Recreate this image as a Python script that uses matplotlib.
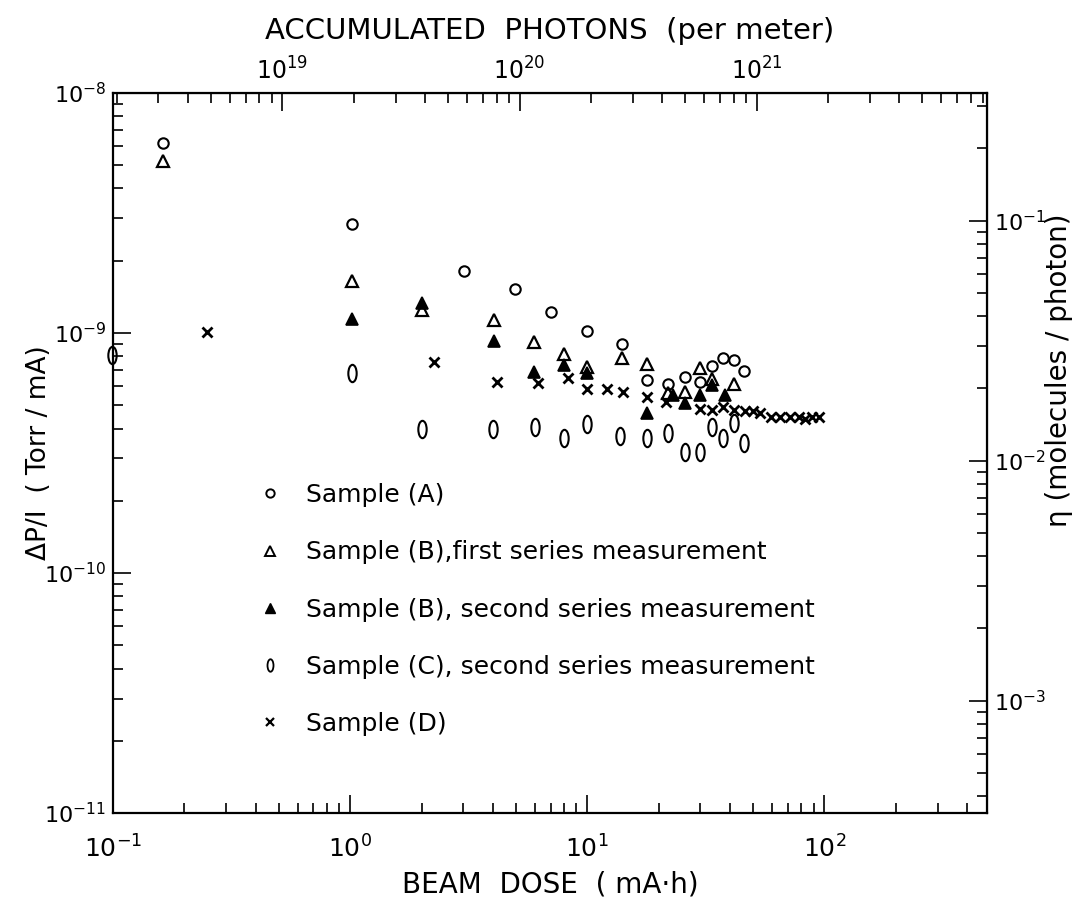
import matplotlib
matplotlib.use("Agg")
import matplotlib.pyplot as plt
from matplotlib.path import Path
from matplotlib.transforms import Affine2D
from matplotlib.lines import Line2D

# -------------------------------
# data
# beam dose in mA.h, dP/I in Torr/mA
# -------------------------------
dose_a = [0.163, 1.02, 3.03, 4.98, 7.03, 10.0, 14.0, 17.8, 21.8, 25.9, 29.9, 33.7, 37.2, 41.6, 45.8]
dpi_a = [6.2e-9, 2.85e-9, 1.82e-9, 1.52e-9, 1.22e-9, 1.02e-9, 8.97e-10, 6.37e-10, 6.13e-10,
         6.53e-10, 6.27e-10, 7.28e-10, 7.86e-10, 7.72e-10, 6.94e-10]

dose_b1 = [0.163, 1.02, 2.01, 4.03, 5.98, 8.0, 10.0, 14.0, 17.8, 21.8, 25.9, 29.9, 33.7, 41.6]
dpi_b1 = [5.2e-9, 1.64e-9, 1.25e-9, 1.13e-9, 9.14e-10, 8.2e-10, 7.2e-10, 7.85e-10, 7.43e-10,
          5.61e-10, 5.66e-10, 7.13e-10, 6.41e-10, 6.13e-10]

dose_b2 = [1.02, 2.01, 4.03, 5.98, 8.0, 10.0, 17.8, 22.9, 25.9, 29.9, 33.7, 38.1]
dpi_b2 = [1.14e-9, 1.33e-9, 9.26e-10, 6.9e-10, 7.36e-10, 6.8e-10, 4.63e-10, 5.52e-10,
          5.13e-10, 5.52e-10, 6.07e-10, 5.52e-10]

dose_c = [0.099, 1.02, 2.0, 4.0, 6.0, 8.0, 10.0, 13.8, 17.8, 21.8, 25.9, 29.9, 33.7, 37.3, 41.6, 45.8]
dpi_c = [8.1e-10, 6.8e-10, 4.0e-10, 4.0e-10, 4.05e-10, 3.64e-10, 4.18e-10, 3.73e-10, 3.64e-10,
         3.82e-10, 3.2e-10, 3.2e-10, 4.07e-10, 3.64e-10, 4.23e-10, 3.49e-10]

dose_d = [0.248, 2.26, 4.15, 6.2, 8.26, 10.0, 12.1, 14.1, 17.8, 21.4, 29.9, 33.7, 37.2, 41.6,
          46.1, 50.0, 53.3, 59.3, 65.3, 71.9, 78.0, 83.2, 88.7, 95.3]
dpi_d = [1.01e-9, 7.6e-10, 6.24e-10, 6.2e-10, 6.5e-10, 5.85e-10, 5.85e-10, 5.69e-10, 5.43e-10,
         5.18e-10, 4.81e-10, 4.78e-10, 4.93e-10, 4.78e-10, 4.74e-10, 4.72e-10, 4.63e-10,
         4.45e-10, 4.45e-10, 4.45e-10, 4.45e-10, 4.38e-10, 4.45e-10, 4.45e-10]

labels = [
    "Sample (A)",
    "Sample (B),first series measurement",
    "Sample (B), second series measurement",
    "Sample (C), second series measurement",
    "Sample (D)",
]

# decade ticks of the four scales
dose_ticks = [1e-1, 1e0, 1e1, 1e2]
dpi_ticks = [1e-11, 1e-10, 1e-9, 1e-8]
photon_ticks = [1e19, 1e20, 1e21]
eta_ticks = [1e-3, 1e-2, 1e-1]

# conversion factors for the twin scales
PHOTONS_PER_DOSE = 1.93e19   # photons per meter per mA.h
ETA_PER_DPI = 3.4e7          # molecules/photon per Torr/mA

# -------------------------------
# figure
# -------------------------------
plt.rcParams["font.family"] = "DejaVu Sans"
plt.rcParams["mathtext.default"] = "regular"
plt.rcParams["axes.unicode_minus"] = False

fig = plt.figure(figsize=(10.72, 9.06), dpi=100)
ax = fig.add_axes([0.1054, 0.1026, 0.8153, 0.7948])

ellipse = Path.unit_circle().transformed(Affine2D().scale(0.48, 1.0))

ms_kw = dict(linestyle="none", color="black", clip_on=False)
ax.plot(dose_a, dpi_a, marker="o", ms=7.5, mfc="none", mew=1.5, **ms_kw)
ax.plot(dose_b1, dpi_b1, marker="^", ms=8.5, mfc="none", mew=1.6, **ms_kw)
ax.plot(dose_b2, dpi_b2, marker="^", ms=8.5, mfc="black", mew=1.2, **ms_kw)
ax.plot(dose_c, dpi_c, marker=ellipse, ms=12.5, mfc="none", mew=1.5, **ms_kw)
ax.plot(dose_d, dpi_d, marker="x", ms=7, mew=2.0, **ms_kw)

ax.set_xscale("log")
ax.set_yscale("log")
ax.set_xticks(dose_ticks)
ax.set_yticks(dpi_ticks)
ax.set_xlim(0.1, 485)
ax.set_ylim(1e-11, 1e-8)

for s in ax.spines.values():
    s.set_linewidth(1.6)

tick_kw = dict(direction="in", width=1.2, colors="black")
ax.tick_params(which="major", length=13, **tick_kw)
ax.tick_params(which="minor", length=7, **tick_kw)
ax.tick_params(axis="x", which="major", pad=16, labelsize=18)
ax.tick_params(axis="y", which="major", pad=5, labelsize=16)

ax.set_xlabel("BEAM  DOSE  ( mA·h)", fontsize=20, labelpad=6)
ax.set_ylabel("ΔP/I  ( Torr / mA)", fontsize=19)
ax.yaxis.set_label_coords(-0.07, 0.5)

# top axis: accumulated photons
top = ax.secondary_xaxis("top", functions=(lambda d: d * PHOTONS_PER_DOSE,
                                           lambda p: p / PHOTONS_PER_DOSE))
top.set_xticks(photon_ticks)
top.tick_params(which="major", length=13, labelsize=17, pad=6, **tick_kw)
top.tick_params(which="minor", length=7, **tick_kw)
top.set_xlabel("ACCUMULATED  PHOTONS  (per meter)", fontsize=21, labelpad=13)

# right axis: eta
right = ax.secondary_yaxis("right", functions=(lambda v: v * ETA_PER_DPI,
                                               lambda e: e / ETA_PER_DPI))
right.set_yticks(eta_ticks)
right.tick_params(which="major", length=13, labelsize=16, pad=5, **tick_kw)
right.tick_params(which="minor", length=7, **tick_kw)
right.set_ylabel("η (molecules / photon)", fontsize=20)
right.yaxis.set_label_coords(1.066, 0.615, transform=ax.transAxes)

# legend written inside the plot
handles = [
    Line2D([], [], marker="o", ms=6, mfc="none", mew=1.4, **ms_kw),
    Line2D([], [], marker="^", ms=6.5, mfc="none", mew=1.4, **ms_kw),
    Line2D([], [], marker="^", ms=6.5, mfc="black", mew=1.0, **ms_kw),
    Line2D([], [], marker=ellipse, ms=9, mfc="none", mew=1.3, **ms_kw),
    Line2D([], [], marker="x", ms=5.5, mew=1.6, **ms_kw),
]
ax.legend(handles, labels, loc="upper left", bbox_to_anchor=(0.165, 0.458),
          frameon=False, fontsize=18, handlelength=1.0, handletextpad=0.95,
          labelspacing=1.33, borderpad=0, borderaxespad=0)

fig.savefig("out.png", dpi=100)
